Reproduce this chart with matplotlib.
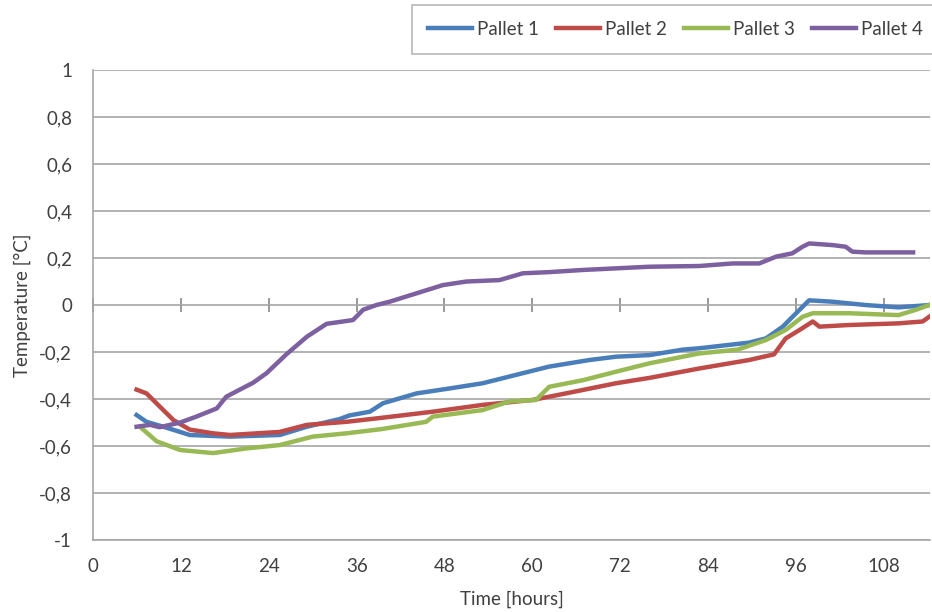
import matplotlib.pyplot as plt

# ---------------------------------------------------
# Datos de temperatura por pallet
# ---------------------------------------------------
horas_p1 = [5.95, 7.3, 9.6, 11.9, 13.2, 18.7, 25.5, 29.2, 33.7, 35, 37.8, 39.6, 44.2, 48.7, 53.2,
            58.7, 62.3, 67.8, 71.4, 76, 80.5, 82.8, 89.6, 91.9, 94.2, 96.5, 97.8, 101, 105.5, 110, 114.2]
temp_p1 = [-0.468, -0.497, -0.518, -0.54, -0.553, -0.56, -0.553, -0.518, -0.485, -0.47, -0.454, -0.418,
           -0.376, -0.355, -0.333, -0.29, -0.262, -0.234, -0.22, -0.213, -0.19, -0.184, -0.16, -0.142,
           -0.092, -0.02, 0.02, 0.014, 0.0, -0.01, 0.0]

horas_p2 = [5.95, 7.3, 9.6, 11, 13.2, 16.4, 18.7, 25.5, 29.2, 34.6, 39.4, 46.4, 53.2, 60, 64.6,
            71.4, 76, 82.8, 89.6, 93, 94.6, 96.5, 98.3, 99.2, 103.3, 110, 113.3, 114.2]
temp_p2 = [-0.36, -0.376, -0.447, -0.49, -0.53, -0.546, -0.553, -0.54, -0.51, -0.497, -0.48, -0.454,
           -0.425, -0.404, -0.376, -0.333, -0.31, -0.27, -0.234, -0.21, -0.142, -0.106, -0.07, -0.092,
           -0.085, -0.078, -0.07, -0.05]

horas_p3 = [6.4, 8.7, 11.9, 16.4, 21, 25.5, 30, 34.6, 39.4, 45.5, 46.4, 53.2, 56.9, 60.5, 62.3,
            66.9, 71.4, 76, 82.8, 88, 91.9, 94.6, 96.9, 98.3, 103.3, 110, 112.4, 114.2]
temp_p3 = [-0.518, -0.58, -0.617, -0.63, -0.61, -0.596, -0.56, -0.546, -0.528, -0.497, -0.475, -0.447,
           -0.41, -0.404, -0.348, -0.32, -0.284, -0.248, -0.206, -0.19, -0.149, -0.106, -0.05, -0.035,
           -0.035, -0.043, -0.02, 0.0]

horas_p4 = [5.95, 7.8, 9.1, 11.9, 14.1, 16.9, 18.2, 21.9, 23.7, 26.4, 29.2, 31.9, 35.5, 36.9, 38.7,
            40.5, 44.2, 47.8, 51, 55.5, 58.7, 62.3, 66.8, 71.4, 76, 82.8, 87.4, 91, 93.3, 95.5, 96.9,
            97.8, 101, 102.8, 103.7, 105.5, 112]
temp_p4 = [-0.518, -0.51, -0.52, -0.50, -0.475, -0.44, -0.39, -0.33, -0.29, -0.21, -0.135, -0.08,
           -0.064, -0.02, 0.0, 0.014, 0.05, 0.085, 0.10, 0.106, 0.135, 0.14, 0.149, 0.156, 0.163, 0.166,
           0.177, 0.177, 0.206, 0.22, 0.248, 0.262, 0.255, 0.248, 0.227, 0.224, 0.224]

series = [
    ('Pallet 1', horas_p1, temp_p1, '#4a7ebb'),
    ('Pallet 2', horas_p2, temp_p2, '#be4b48'),
    ('Pallet 3', horas_p3, temp_p3, '#98b954'),
    ('Pallet 4', horas_p4, temp_p4, '#7d60a0'),
]

x_ticks = [0, 12, 24, 36, 48, 60, 72, 84, 96, 108]
y_ticks = [1, 0.8, 0.6, 0.4, 0.2, 0, -0.2, -0.4, -0.6, -0.8, -1]
y_labels = ['1', '0,8', '0,6', '0,4', '0,2', '0', '-0,2', '-0,4', '-0,6', '-0,8', '-1']
# ---------------------------------------------------

plt.rcParams['font.family'] = ['Lato', 'DejaVu Sans']
gris = '#a6a6a6'
texto = '#404040'
fs = 13.5

fig = plt.figure(figsize=(9.32, 6.12), dpi=100)
ax = fig.add_axes([0.0998, 0.1176, 0.898, 0.768])

for nombre, h, t, c in series:
    ax.plot(h, t, color=c, linewidth=3.2, label=nombre, solid_joinstyle='round')

ax.set_xlim(0, 114.3)
ax.set_ylim(-1, 1)
ax.set_yticks(y_ticks)
ax.set_yticklabels(y_labels)
ax.set_xticks(x_ticks)
ax.grid(axis='y', color=gris, linewidth=1.2)
ax.set_axisbelow(True)

for lado in ['top', 'right']:
    ax.spines[lado].set_visible(False)
for lado in ['left', 'bottom']:
    ax.spines[lado].set_color(gris)
    ax.spines[lado].set_linewidth(1.2)

ax.tick_params(axis='both', length=0, labelsize=fs, labelcolor=texto)
ax.tick_params(axis='y', pad=15)
ax.tick_params(axis='x', pad=13)

# eje horizontal cruzando en 0 con marcas
eje0 = ax.secondary_xaxis(0.5)
eje0.set_xticks(x_ticks)
eje0.tick_params(direction='inout', length=10, width=1.1, color='#7f7f7f', labelbottom=False,
                 labeltop=False, labelsize=0)
eje0.spines['bottom'].set_color('#8c8c8c')
eje0.spines['bottom'].set_linewidth(1.2)
eje0.spines['top'].set_visible(False)

ax.set_xlabel('Time [hours]', fontsize=fs, color=texto, labelpad=11)
ax.set_ylabel('Temperature [°C]', fontsize=fs, color=texto, labelpad=6)

leg = fig.legend(loc='upper left', bbox_to_anchor=(412 / 932, 1 - 5 / 612), ncol=4,
                 fontsize=fs, handlelength=2.35, handletextpad=0.27, columnspacing=0.9,
                 borderpad=0.85, borderaxespad=0, fancybox=False, frameon=True)
leg.get_frame().set_edgecolor(gris)
leg.get_frame().set_linewidth(1.2)
for t in leg.get_texts():
    t.set_color(texto)

plt.savefig('out.png', dpi=100)
